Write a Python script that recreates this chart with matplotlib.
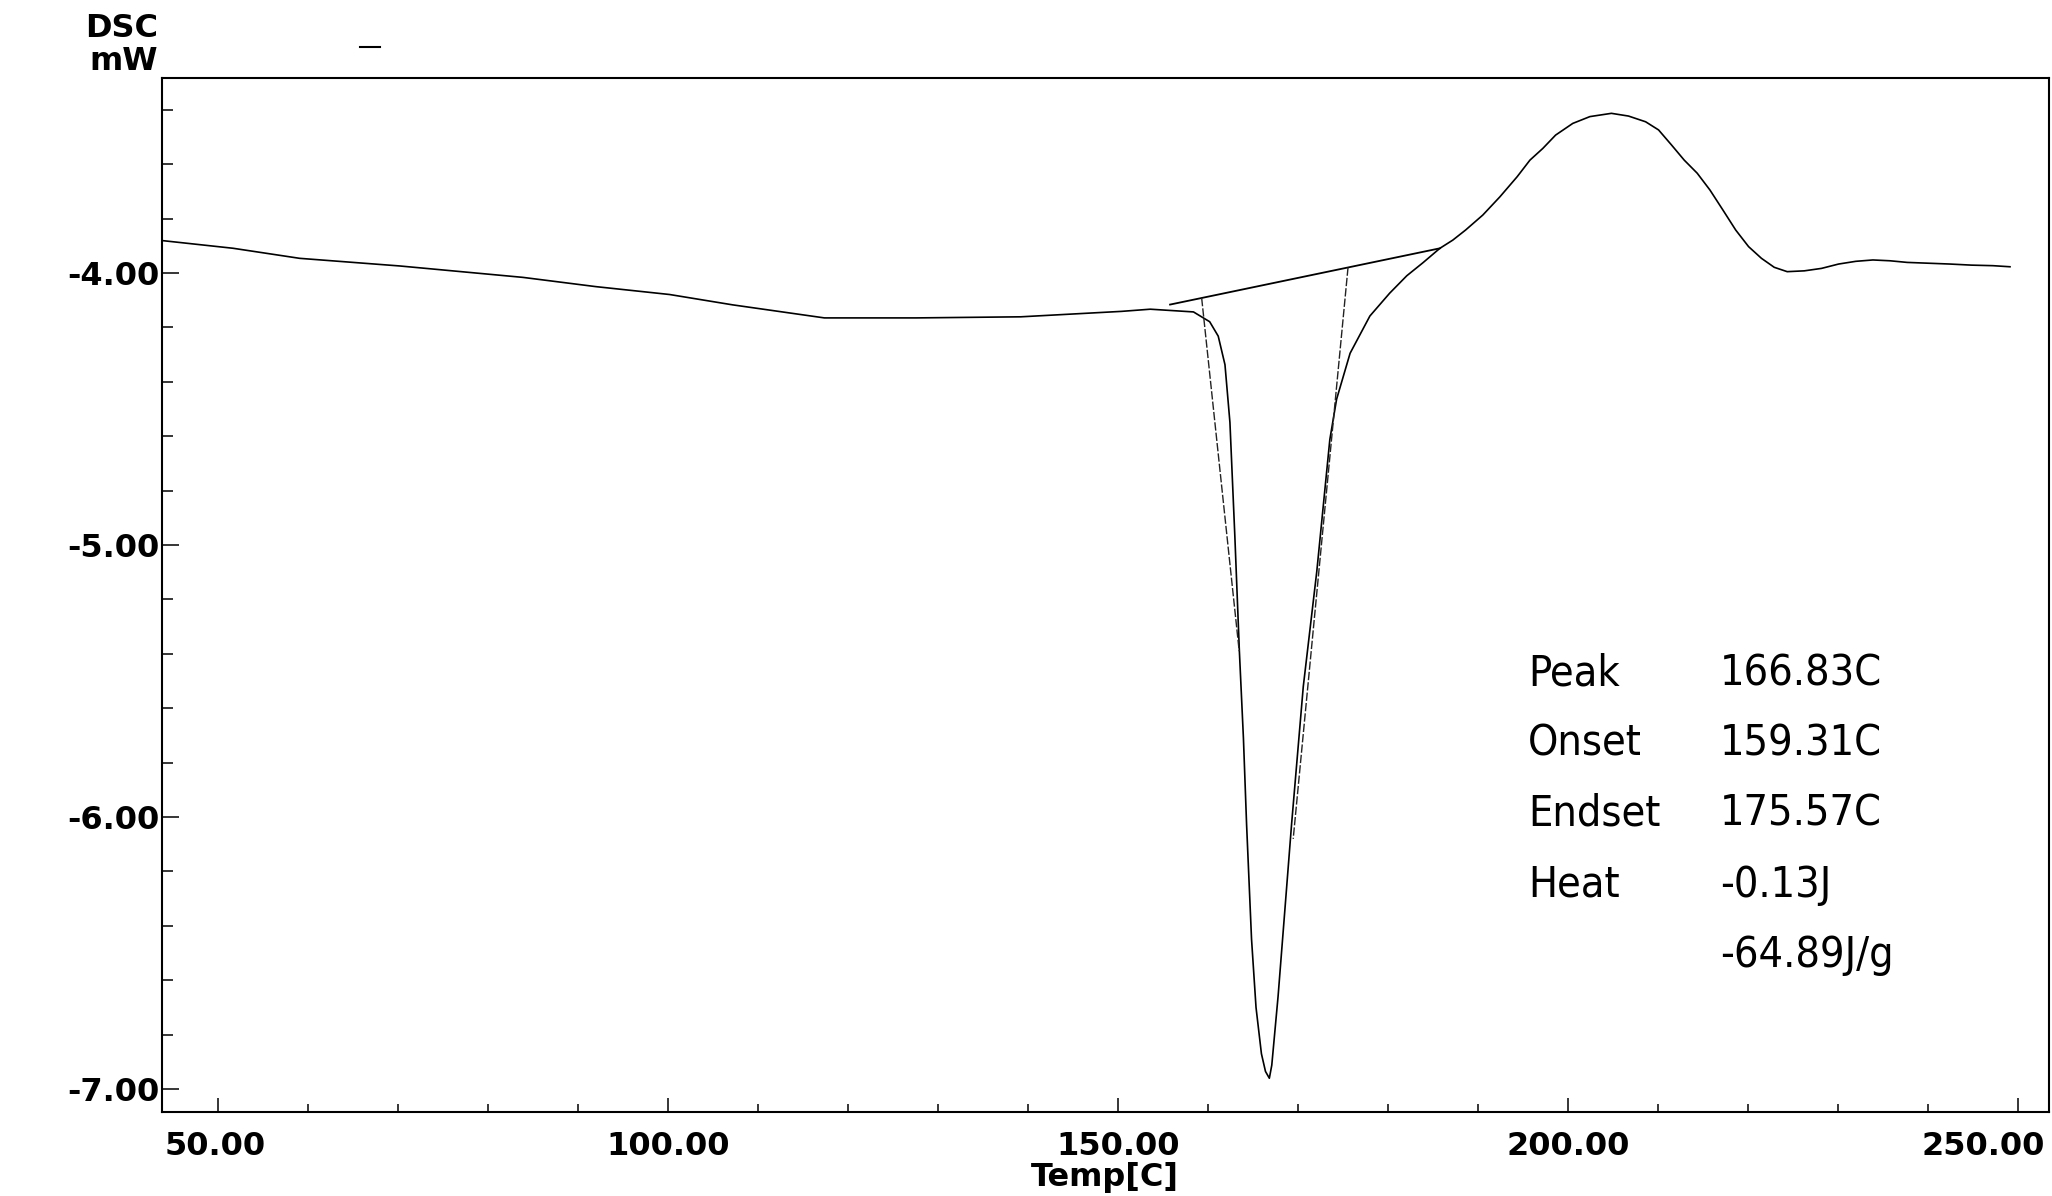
import numpy as np
import matplotlib
matplotlib.use('Agg')
import matplotlib.pyplot as plt
from matplotlib.lines import Line2D
from matplotlib.transforms import ScaledTranslation

# DSC heating trace: temperature [C] vs heat flow [mW]
temp = [43.9, 51.7, 59.1, 70.2, 83.9, 92.0, 100.2, 107.2, 117.4, 127.6,
        139.2, 150.4, 153.6, 158.4, 160.2, 161.15, 161.9, 162.45, 163.0, 163.5,
        163.95, 164.3, 164.85, 165.35, 165.95, 166.4, 166.83, 167.1, 167.8, 168.55,
        169.3, 170.6, 172.1, 173.55, 174.3, 175.8, 178.0, 180.2, 182.1, 183.9,
        185.78, 187.21, 188.63, 190.54, 192.44, 194.36, 195.78, 197.21, 198.63, 200.54,
        202.44, 204.83, 206.73, 208.63, 210.07, 211.5, 212.92, 214.36, 215.78, 217.21,
        218.64, 220.07, 221.5, 222.92, 224.36, 226.26, 228.17, 230.07, 231.98, 233.88,
        235.78, 237.69, 240.07, 242.44, 244.83, 247.21, 249.11]
dsc = [-3.881, -3.909, -3.946, -3.974, -4.016, -4.050, -4.079, -4.117, -4.165, -4.165,
       -4.161, -4.141, -4.133, -4.143, -4.179, -4.232, -4.337, -4.549, -4.970, -5.390,
       -5.710, -6.026, -6.448, -6.700, -6.870, -6.935, -6.960, -6.912, -6.659, -6.343,
       -6.026, -5.520, -5.097, -4.612, -4.464, -4.295, -4.158, -4.074, -4.010, -3.962,
       -3.909, -3.879, -3.842, -3.787, -3.720, -3.646, -3.585, -3.542, -3.493, -3.450,
       -3.425, -3.413, -3.423, -3.444, -3.474, -3.529, -3.585, -3.633, -3.695, -3.768,
       -3.842, -3.903, -3.946, -3.979, -3.995, -3.992, -3.983, -3.967, -3.957, -3.952,
       -3.955, -3.961, -3.964, -3.967, -3.971, -3.973, -3.977]

# peak analysis
base_T = [155.8, 185.8]
base_mW = [-4.116, -3.909]
peak_T = 166.83
onset_T = 159.31
endset_T = 175.57
heat_J = -0.13
heat_Jg = -64.89
onset_end = (163.48, -5.39)
endset_end = (169.48, -6.08)

result_names = ['Peak', 'Onset', 'Endset', 'Heat', '']
result_values = [f'{peak_T:.2f}C', f'{onset_T:.2f}C', f'{endset_T:.2f}C',
                 f'{heat_J:.2f}J', f'{heat_Jg:.2f}J/g']

xticks = [50, 100, 150, 200, 250]
xticklabels = ['50.00', '100.00', '150.00', '200.00', '250.00']
yticks = [-7, -6, -5, -4]
yticklabels = ['-7.00', '-6.00', '-5.00', '-4.00']

W, H = 2052, 1196
fig = plt.figure(figsize=(W / 100, H / 100), dpi=100)
ax = fig.add_axes([162 / W, 1 - 1111.7 / H, (2048.6 - 162) / W, (1111.7 - 77.7) / H])

ax.plot(temp, dsc, color='black', lw=1.2)
ax.plot(base_T, base_mW, color='black', lw=1.3)
y_on = np.interp(onset_T, base_T, base_mW)
y_end = np.interp(endset_T, base_T, base_mW)
ax.plot([onset_T, onset_end[0]], [y_on, onset_end[1]], color='#222222', lw=1.0,
        ls=(0, (6, 1.5)))
ax.plot([endset_T, endset_end[0]], [y_end, endset_end[1]], color='#222222', lw=1.0,
        ls=(0, (6, 1.5)))

ax.set_xlim(43.81, 253.4)
ax.set_ylim(-7.083, -3.282)

tick_font = dict(family='DejaVu Sans', weight='bold', size=23)
ax.set_xticks(xticks)
ax.set_xticklabels(xticklabels, fontdict=tick_font)
ax.set_xticks(np.arange(50, 251, 10), minor=True)
ax.set_yticks(yticks)
ax.set_yticklabels(yticklabels, fontdict=tick_font)
ax.set_yticks(np.arange(-7, -3.3, 0.2), minor=True)
ax.tick_params(axis='x', which='major', direction='in', length=10, width=1.1, pad=14)
ax.tick_params(axis='x', which='minor', direction='in', length=6, width=1.1)
ax.tick_params(axis='y', which='major', direction='in', length=12, width=1.1, pad=2)
ax.tick_params(axis='y', which='minor', direction='in', length=8, width=1.1)
for s in ax.spines.values():
    s.set_linewidth(1.5)

# keep the end labels inside the frame
xt = ax.xaxis.get_major_ticks()
xt[0].label1.set_horizontalalignment('left')
xt[0].label1.set_transform(xt[0].label1.get_transform() +
                           ScaledTranslation(-53 / 100, 0, fig.dpi_scale_trans))
xt[-1].label1.set_horizontalalignment('right')
xt[-1].label1.set_transform(xt[-1].label1.get_transform() +
                            ScaledTranslation(27 / 100, 0, fig.dpi_scale_trans))

ax.set_xlabel('Temp[C]', fontdict=tick_font, labelpad=0)
fig.text(158 / W, 1 - 37 / H, 'DSC', ha='right', va='baseline', **tick_font)
fig.text(158 / W, 1 - 70 / H, 'mW', ha='right', va='baseline', **tick_font)
fig.add_artist(Line2D([360 / W, 380 / W], [1 - 47 / H, 1 - 47 / H], color='black', lw=1.5))

ann_font = dict(family='DejaVu Sans', stretch='condensed', size=31)
for i, (name, val) in enumerate(zip(result_names, result_values)):
    yb = 1 - (685 + 70.5 * i) / H
    fig.text(1528 / W, yb, name, ha='left', va='baseline', **ann_font)
    fig.text(1720 / W, yb, val, ha='left', va='baseline', **ann_font)

fig.savefig('out.png', dpi=100)
